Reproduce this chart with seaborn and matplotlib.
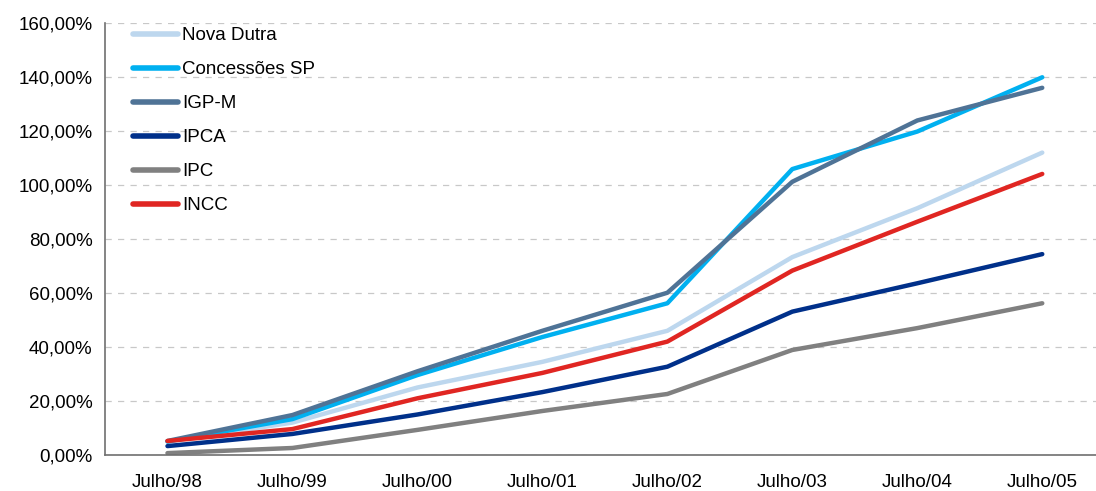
import seaborn as sns
import matplotlib.pyplot as plt
import pandas as pd
from matplotlib.ticker import FuncFormatter, FixedLocator

periodos = ["Julho/98", "Julho/99", "Julho/00", "Julho/01",
            "Julho/02", "Julho/03", "Julho/04", "Julho/05"]

nova_dutra = [5.0, 12.0, 25.0, 34.5, 46.0, 73.3, 91.4, 112.0]
concessoes_sp = [5.0, 13.3, 29.6, 43.7, 56.2, 105.9, 119.8, 139.9]
igp_m = [5.2, 14.8, 31.0, 46.0, 60.1, 101.2, 123.9, 136.0]
ipca = [3.3, 7.8, 15.0, 23.3, 32.7, 53.1, 63.6, 74.4]
ipc = [0.7, 2.6, 9.3, 16.3, 22.6, 38.9, 47.0, 56.2]
incc = [5.2, 9.6, 21.0, 30.4, 42.0, 68.3, 86.4, 104.1]

series = {
    "Nova Dutra": nova_dutra,
    "Concessões SP": concessoes_sp,
    "IGP-M": igp_m,
    "IPCA": ipca,
    "IPC": ipc,
    "INCC": incc,
}
cores = {
    "Nova Dutra": "#BDD7EE",
    "Concessões SP": "#00B0F0",
    "IGP-M": "#4F7396",
    "IPCA": "#00308A",
    "IPC": "#808080",
    "INCC": "#E02622",
}

linhas = []
for nome, valores in series.items():
    for i, v in enumerate(valores):
        linhas.append({"x": i, "valor": v, "serie": nome})
df = pd.DataFrame(linhas)

sns.set_style("white")
plt.rcParams["font.family"] = ["Liberation Sans", "DejaVu Sans"]
plt.rcParams["text.color"] = "black"
plt.rcParams["xtick.labelcolor"] = "black"
plt.rcParams["ytick.labelcolor"] = "black"

fig = plt.figure(figsize=(10.96, 4.91), dpi=100)
ax = fig.add_axes([105 / 1096, 36 / 491, 991 / 1096, 432 / 491])

sns.lineplot(data=df, x="x", y="valor", hue="serie", palette=cores,
             hue_order=list(series.keys()), linewidth=3.2, sort=False,
             ax=ax, solid_capstyle="round")

ax.set_xlim(-0.5, 7.43)
ax.set_ylim(0, 160)
ax.set_yticks(range(0, 161, 20))
ax.yaxis.set_major_formatter(FuncFormatter(lambda v, p: f"{v:.2f}%".replace(".", ",")))
ax.set_xticks(range(len(periodos)))
ax.set_xticklabels(periodos)
ax.xaxis.set_minor_locator(FixedLocator([i - 0.5 for i in range(len(periodos) + 1)]))
ax.tick_params(axis="x", which="major", length=0, pad=14, labelsize=13.5, labelcolor="black")
ax.tick_params(axis="x", which="minor", length=5, color="#606060", width=1, direction="out")
ax.tick_params(axis="y", length=5, color="#606060", width=1, direction="out", pad=4,
               labelsize=13.5, labelcolor="black")
ax.grid(axis="y", linestyle=(0, (5, 5)), color="#C8C8C8", linewidth=0.9)
ax.set_axisbelow(True)

for s in ["top", "right"]:
    ax.spines[s].set_visible(False)
for s in ["left", "bottom"]:
    ax.spines[s].set_color("#707070")
    ax.spines[s].set_linewidth(1.2)

ax.set_xlabel("")
ax.set_ylabel("")

leg = ax.legend(loc="upper left", bbox_to_anchor=(0.028, 0.99), frameon=False,
                fontsize=13.5, handlelength=2.4, handletextpad=0.25,
                labelspacing=0.9, borderaxespad=0, borderpad=0)
for h in leg.get_lines():
    h.set_linewidth(4)
for t in leg.get_texts():
    t.set_color("black")

fig.savefig("out.png", dpi=100)
